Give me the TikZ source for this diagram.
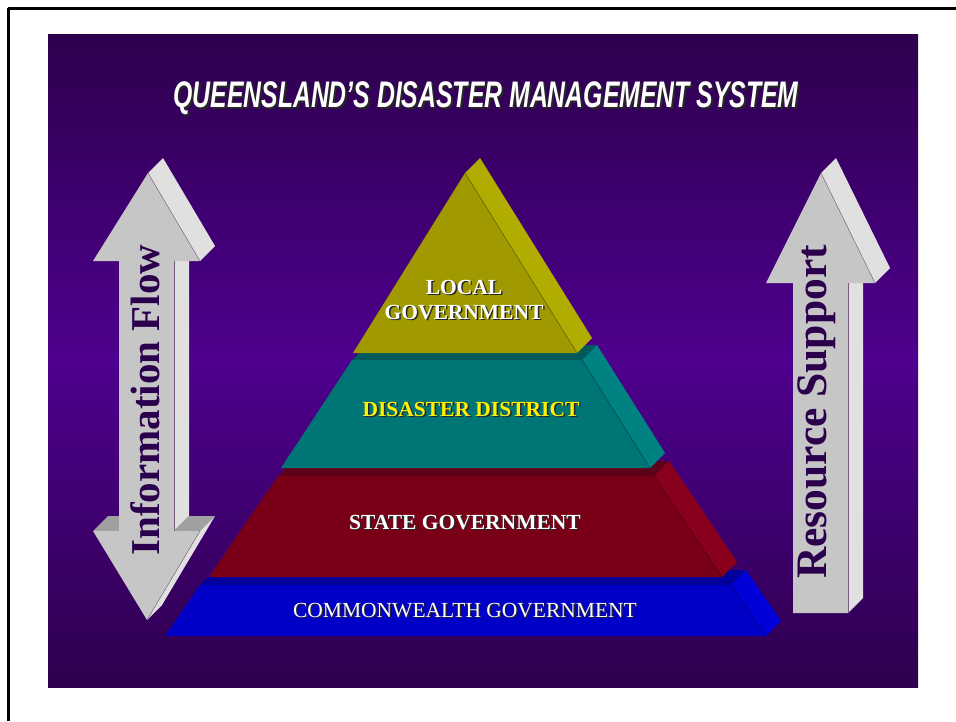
\documentclass[tikz,border=0pt]{standalone}
\usepackage{fontspec}
\setmainfont{Liberation Serif}
\newfontfamily\titlefont{Liberation Sans}
\usepackage{xcolor}
\usetikzlibrary{positioning}

\definecolor{bgdark}{HTML}{2E004E}
\definecolor{bgmid}{HTML}{4E008E}
\definecolor{localfront}{HTML}{A09A00}
\definecolor{localside}{HTML}{B0AC00}
\definecolor{distfront}{HTML}{007575}
\definecolor{distside}{HTML}{008282}
\definecolor{disttop}{HTML}{005A5C}
\definecolor{statefront}{HTML}{7A0018}
\definecolor{stateside}{HTML}{88001C}
\definecolor{statetop}{HTML}{5E0018}
\definecolor{cwfront}{HTML}{0000C6}
\definecolor{cwside}{HTML}{0000D8}
\definecolor{cwtop}{HTML}{00009C}
\definecolor{arrowfront}{HTML}{C6C6C6}
\definecolor{arrowside}{HTML}{E0E0E0}
\definecolor{arrowtop}{HTML}{A0A0A0}
\definecolor{arrowtext}{HTML}{2B004C}

% text with a dark drop shadow
\newcommand{\withshadow}[2][1.5pt]{\makebox[0pt][l]{\hspace*{#1}\raisebox{-#1}{\color{black!85}#2}}#2}

\begin{document}
\begin{tikzpicture}[x=1pt,y=-1pt,
	tiertext/.style={font=\fontsize{21.5}{25}\selectfont\bfseries, align=center, inner sep=0pt},
	flowtext/.style={rotate=90, text=arrowtext, inner sep=0pt}]
	\tikzstyle{every node}=[inner sep=0pt]
		\useasboundingbox (0,0) rectangle (956,721);
		% page edge
		\draw [line width=3pt] (8,721) to (8,8);
		\draw [line width=3pt] (8,8) to (956,8);
		% slide
		\shade [top color=bgdark, bottom color=bgdark, middle color=bgmid] (48,34) rectangle (918,687);
		\node [font=\titlefont\fontsize{37}{37}\selectfont\bfseries\itshape, text=white] (title) at (486,99) {\withshadow[2pt]{\scalebox{0.67}[1]{QUEENSLAND’S DISASTER MANAGEMENT SYSTEM}}};
		% commonwealth
		\fill [cwtop] (200,585) -- (731,585) -- (746,570) -- (215,570) -- cycle;
		\fill [cwside] (731,585) -- (746,570) -- (781,621) -- (766,636) -- cycle;
		\fill [cwfront] (200,585) -- (731,585) -- (766,636) -- (165,636) -- cycle;
		% state
		\fill [statetop] (278,476) -- (654,476) -- (669,461) -- (293,461) -- cycle;
		\fill [stateside] (654,476) -- (669,461) -- (737,562) -- (722,577) -- cycle;
		\fill [statefront] (278,476) -- (654,476) -- (722,577) -- (209,577) -- cycle;
		% district
		\fill [disttop] (352,360) -- (582,360) -- (597,345) -- (367,345) -- cycle;
		\fill [distside] (582,360) -- (597,345) -- (665,453) -- (650,468) -- cycle;
		\fill [distfront] (352,360) -- (582,360) -- (650,468) -- (281,468) -- cycle;
		% local
		\fill [localside] (465,173) -- (480,158) -- (592,338) -- (577,353) -- cycle;
		\fill [localfront] (465,173) -- (577,353) -- (353,353) -- cycle;
		\draw [line width=0.4pt, black!45!localfront] (465,173) to (577,353);
		\draw [line width=0.4pt, black!45!distfront] (582,360) to (650,468);
		\draw [line width=0.4pt, black!45!statefront] (654,476) to (722,577);
		\draw [line width=0.4pt, black!45!cwfront] (731,585) to (766,636);
		% tier labels
		\node [tiertext, text=white] (local) at (464,300.5) {\withshadow{LOCAL}\\\withshadow{GOVERNMENT}};
		\node [tiertext, text=yellow] (district) at (471,410) {\withshadow{DISASTER DISTRICT}};
		\node [tiertext, text=white] (state) at (465,523) {\withshadow{STATE GOVERNMENT}};
		\node [tiertext, font=\fontsize{21.5}{25}\selectfont, text=white] (commonwealth) at (465,611) {\withshadow[1.2pt]{COMMONWEALTH GOVERNMENT}};
		% information flow arrow
		\fill [arrowside] (174,261) -- (189,246) -- (189,516) -- (174,531) -- cycle;
		\fill [arrowside] (148,173) -- (163,158) -- (215,246) -- (200,261) -- cycle;
		\fill [arrowtop] (93,531) -- (108,516) -- (119,516) -- (119,531) -- cycle;
		\fill [arrowtop] (174,531) -- (189,516) -- (215,516) -- (200,531) -- cycle;
		\fill [arrowside] (200,531) -- (215,516) -- (162,605) -- (147,620) -- cycle;
		\fill [arrowfront] (148,173) -- (200,261) -- (174,261) -- (174,531) -- (200,531) -- (147,620) -- (93,531) -- (119,531) -- (119,261) -- (93,261) -- cycle;
		\draw [line width=0.4pt, gray!70!violet] (148,173) to (200,261);
		\draw [line width=0.4pt, gray!70!violet] (174,261) to (174,531);
		\draw [line width=0.4pt, gray!70!violet] (200,531) to (147,620);
		\node [flowtext, font=\fontsize{41}{41}\selectfont\bfseries] (infoflow) at (145,400) {Information Flow};
		% resource support arrow
		\fill [arrowside] (848,283) -- (863,268) -- (863,598) -- (848,613) -- cycle;
		\fill [arrowside] (821,173) -- (836,158) -- (890,268) -- (875,283) -- cycle;
		\fill [arrowfront] (821,173) -- (875,283) -- (848,283) -- (848,613) -- (793,613) -- (793,283) -- (766,283) -- cycle;
		\draw [line width=0.4pt, gray!70!violet] (821,173) to (875,283);
		\draw [line width=0.4pt, gray!70!violet] (848,283) to (848,613);
		\node [flowtext, font=\fontsize{43.5}{43.5}\selectfont\bfseries] (resource) at (817,412) {Resource Support};
	\end{tikzpicture}
\end{document}
